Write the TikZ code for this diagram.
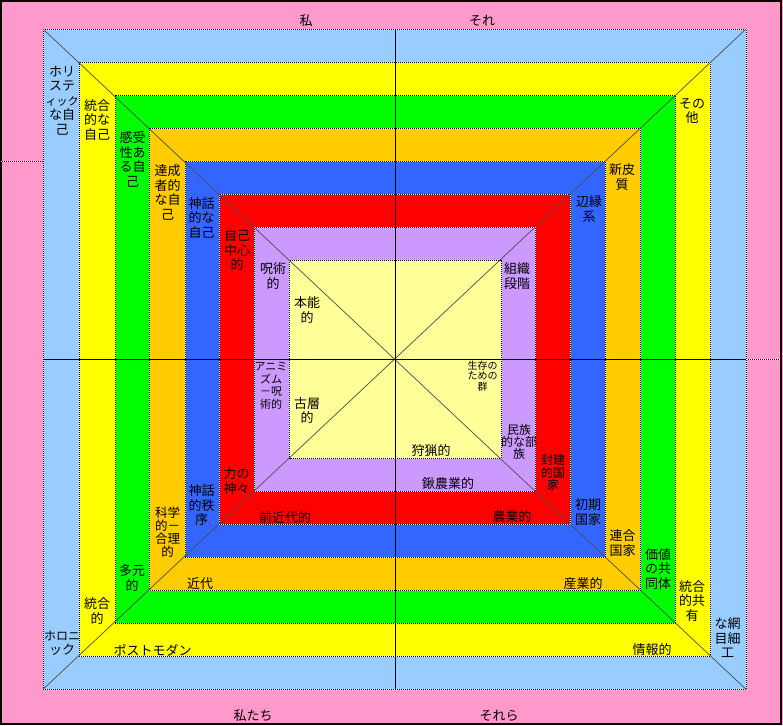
\documentclass[tikz,border=0pt]{standalone}
\usepackage{fontspec}
\setmainfont{Noto Sans CJK JP}
\definecolor{cPink}{HTML}{FF99CC}
\definecolor{cLB}{HTML}{99CCFF}
\definecolor{cY}{HTML}{FFFF00}
\definecolor{cG}{HTML}{00FF00}
\definecolor{cO}{HTML}{FFCC00}
\definecolor{cB}{HTML}{3366FF}
\definecolor{cR}{HTML}{FF0000}
\definecolor{cP}{HTML}{CC99FF}
\definecolor{cLY}{HTML}{FFFF99}
\begin{document}
\begin{tikzpicture}[x=1pt,y=-1pt,
  lbl/.style={font=\fontsize{13}{14.5}\selectfont, align=center, inner sep=0pt},
  lblsmall/.style={font=\fontsize{11}{12.5}\selectfont, align=center, inner sep=0pt},
  lbltiny/.style={font=\fontsize{10}{10.5}\selectfont, align=center, inner sep=0pt},
  edgewhite/.style={draw=white, line width=0.9pt},
  edgedots/.style={draw=black, line width=0.9pt, dash pattern=on 1pt off 1pt},
  crossline/.style={draw=black, line width=1pt},
  diagline/.style={draw=black!70, line width=0.7pt}]
\useasboundingbox (0,0) rectangle (783,725);
% background frame
\fill[cPink] (0,0) rectangle (783,725);
\draw[black, line width=1.5pt] (1,1) rectangle (781,724);
% artefact dotted lines in the frame
\coordinate (la) at (0,161.7);
\coordinate (lb) at (43,161.7);
\coordinate (ra) at (746,359);
\coordinate (rb) at (781,359);
\draw[edgewhite] (la) -- (lb); \draw[edgedots] (la) -- (lb);
\draw[edgewhite] (ra) -- (rb); \draw[edgedots] (ra) -- (rb);
% nested bands
\foreach \l/\t/\r/\b/\c in {43/29/746/689.3/cLB, 79/62.3/710.5/656/cY, 115/95.7/675.5/623.3/cG, 149.5/128.3/640.5/590/cO, 185/161.7/605.5/557.3/cB, 219.5/194.3/570.5/524/cR, 254/227.3/535.5/491.3/cP, 289.5/260/501/458.3/cLY}{
  \fill[\c] (\l,\t) rectangle (\r,\b);
  \draw[edgewhite] (\l,\t) rectangle (\r,\b);
  \draw[edgedots] (\l,\t) rectangle (\r,\b);
}
% cross and diagonals
\coordinate (otl) at (43,29);
\coordinate (otr) at (746,29);
\coordinate (obl) at (43,689.3);
\coordinate (obr) at (746,689.3);
\coordinate (ctop) at (395,29);
\coordinate (cbot) at (395,689.3);
\coordinate (cleft) at (43,359);
\coordinate (cright) at (746,359);
\draw[diagline] (otl) -- (obr);
\draw[diagline] (otr) -- (obl);
\draw[crossline] (ctop) -- (cbot);
\draw[crossline] (cleft) -- (cright);
% outer labels
\node[lbl] (qI) at (306,21) {私};
\node[lbl] (qIt) at (482,21) {それ};
\node[lbl] (qWe) at (253,716) {私たち};
\node[lbl] (qIts) at (499,716) {それら};
% upper left
\node[lbl] (ul1) at (62,100.5) {ホリ\\ステ\\{\fontsize{11}{14.5}\selectfont ィック}\\な自\\己};
\node[lbl] (ul2) at (97,120) {統合\\的な\\自己};
\node[lbl] (ul3) at (132.5,159.5) {感受\\性あ\\る自\\己};
\node[lbl] (ul4) at (167.5,192.5) {達成\\者的\\な自\\己};
\node[lbl] (ul5) at (201.5,218) {神話\\的な\\自己};
\node[lbl] (ul6) at (237,250) {自己\\中心\\的};
\node[lbl] (ul7) at (273,276) {呪術\\的};
\node[lbl] (ul8) at (307,310) {本能\\的};
% lower left
\node[lbl] (ll1) at (62,643.5) {{\fontsize{12}{14.5}\selectfont ホロニ}\\ック};
\node[lbl] (ll2) at (97,611) {統合\\的};
\node[lbl] (ll3) at (132,578) {多元\\的};
\node[lbl, font=\fontsize{12.5}{13}\selectfont] (ll4) at (167.5,532) {科学\\的－\\合理\\的};
\node[lbl] (ll5) at (201.5,505.5) {神話\\的秩\\序};
\node[lbl] (ll6) at (236.5,481) {力の\\神々};
\node[lblsmall] (ll7) at (271,386) {アニミ\\ズム\\－呪\\術的};
\node[lbl] (ll8) at (307,410.5) {古層\\的};
% bottom strips
\node[lbl] (b1) at (431,451) {狩猟的};
\node[lbl] (b2) at (448,484) {鍬農業的};
\node[lbl] (b3) at (285,517.5) {前近代的};
\node[lbl] (b4) at (512,517) {農業的};
\node[lbl] (b5) at (200,584) {近代};
\node[lbl] (b6) at (583,584) {産業的};
\node[lbl] (b7) at (152.5,650) {ポストモダン};
\node[lbl] (b8) at (652,650) {情報的};
% upper right
\node[lbl] (ur1) at (692,111) {その\\他};
\node[lbl] (ur2) at (622,177) {新皮\\質};
\node[lbl] (ur3) at (589,209) {辺縁\\系};
\node[lbl] (ur4) at (517,276) {組織\\段階};
% lower right
\node[lbltiny] (lr0) at (482.5,376) {生存の\\ための\\群};
\node[lbl, font=\fontsize{12}{11.7}\selectfont] (lr1) at (519,442) {民族\\的な部\\族};
\node[lbl, font=\fontsize{12}{12.5}\selectfont] (lr2) at (553,472.5) {封建\\的国\\家};
\node[lbl] (lr3) at (588,512) {初期\\国家};
\node[lbl] (lr4) at (622.5,543) {連合\\国家};
\node[lbl] (lr5) at (658,569) {価値\\の共\\同体};
\node[lbl] (lr6) at (692,601) {統合\\的共\\有};
\node[lbl] (lr7) at (727.5,638) {な網\\目細\\工};
\end{tikzpicture}
\end{document}
